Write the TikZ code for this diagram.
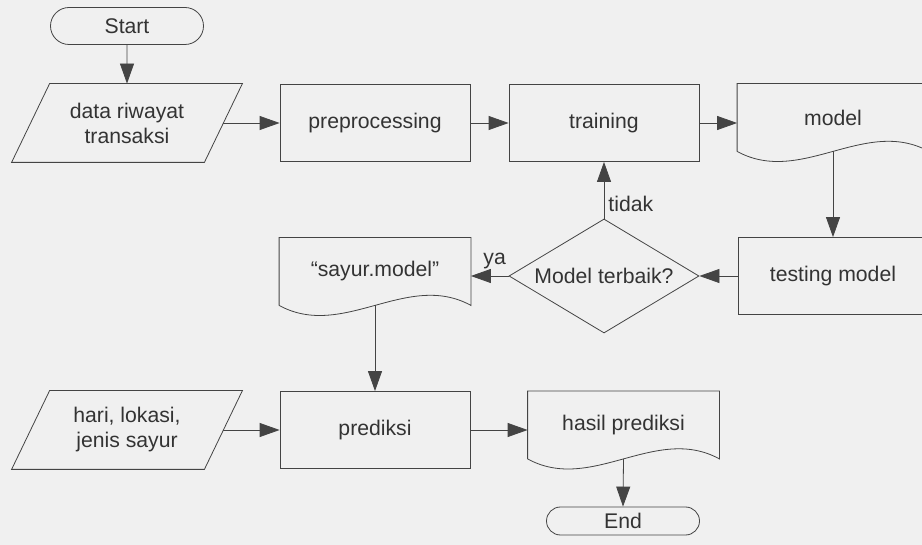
\documentclass[tikz,border=0pt]{standalone}
\usepackage{fontspec}
\setmainfont{Liberation Sans}
\usepackage{xcolor}
\usepackage{tikz}
\usetikzlibrary{arrows.meta, calc, shapes.misc, shapes.geometric}
\definecolor{bgcol}{RGB}{240,240,240}
\definecolor{linecol}{RGB}{68,68,68}
\definecolor{txtcol}{RGB}{51,51,51}
\tikzset{
    every node/.style={font=\fontsize{10.6}{12.5}\selectfont, text=txtcol},
    terminal/.style={rounded rectangle, draw=linecol, minimum width=76.5pt, minimum height=18.5pt, inner sep=0pt},
    procbox/.style={rectangle, draw=linecol, minimum width=95pt, minimum height=38.5pt, inner sep=0pt},
    iobox/.style={rectangle, minimum width=96pt, minimum height=39pt, inner sep=0pt, align=center},
    docbox/.style={rectangle, minimum width=95.5pt, minimum height=33.5pt, inner sep=0pt},
    decision/.style={diamond, draw=linecol, aspect=1.667, minimum width=95pt, minimum height=57pt, inner sep=0pt},
    flow/.style={draw=linecol, -{Triangle[length=10pt, width=7pt]}},
    outline/.style={draw=linecol}
}

\begin{document}
\begin{tikzpicture}[x=0.5pt, y=-0.5pt]
    \useasboundingbox (0,0) rectangle (922,545);
    \clip (0,0) rectangle (922,545);
    \fill[bgcol] (0,0) rectangle (922,545);
    \node[terminal] (start) at (127,26) {Start};
    \node[iobox] (data) at (127,123) {data riwayat\\transaksi};
    \node[procbox] (prep) at (375,123) {preprocessing};
    \node[procbox] (train) at (604,123) {training};
    \node[docbox] (model) at (833,117.5) {model};
    \node[procbox] (test) at (833,276) {testing model};
    \node[decision] (best) at (604,276) {Model terbaik?};
    \node[docbox] (saved) at (375,271.5) {“sayur.model”};
    \node[iobox] (query) at (127,430) {hari, lokasi,\\jenis sayur};
    \node[procbox] (pred) at (375,430) {prediksi};
    \node[docbox] (result) at (623.5,425) {hasil prediksi};
    \node[terminal, minimum height=14pt] (end) at (623,521) {End};

    \foreach \n in {data, query}
        \draw[outline] ($(\n.south west)+(-19,0)$) -- ($(\n.north west)+(19,0)$) -- ($(\n.north east)+(19,0)$) -- ($(\n.south east)+(-19,0)$) -- cycle;
    \foreach \n in {model, saved, result}
        \draw[outline] (\n.south west) -- (\n.north west) -- (\n.north east) -- (\n.south east)
            .. controls ($(\n.south west)!0.667!(\n.south east)+(0,-35)$) and ($(\n.south west)!0.333!(\n.south east)+(0,35)$) .. (\n.south west);

    \draw[flow] (start) -- (data);
    \draw[flow] (data) -- (prep);
    \draw[flow] (prep) -- (train);
    \draw[flow] (train.east) -- (train.east -| model.west);
    \draw[flow] (model.south) -- (test.north);
    \draw[flow] (test) -- (best);
    \draw[flow] (best) -- node[right, pos=0.26, inner sep=2pt] {tidak} (train);
    \draw[flow] (best.west) -- node[above, pos=0.37] {ya} (best.west -| saved.east);
    \draw[flow] (saved.south) -- (pred.north);
    \draw[flow] (query) -- (pred);
    \draw[flow] (pred.east) -- (pred.east -| result.west);
    \draw[flow] (result.south) -- (end.north);
\end{tikzpicture}
\end{document}
